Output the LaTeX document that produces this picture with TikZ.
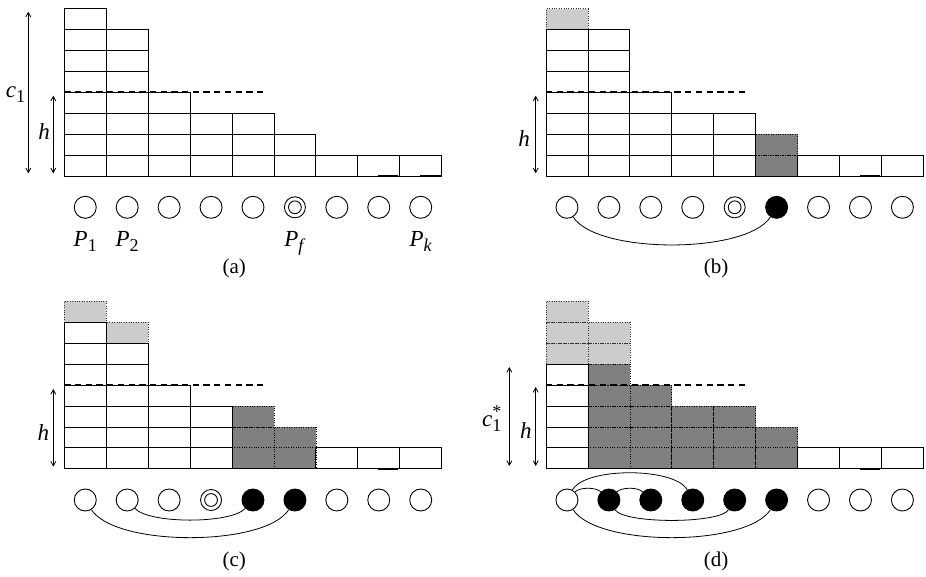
\documentclass[tikz,border=0pt]{standalone}
\usepackage{fontspec}
\setmainfont{Liberation Serif}
\usetikzlibrary{arrows.meta,calc}

% cell size of the load grids
\newcommand\cellw{41.93}
\newcommand\cellh{20.9}
% subscripts and superscripts of the labels
\newcommand\lblsub[1]{\raisebox{-0.2em}{\fontsize{18}{20}\selectfont #1}}
\newcommand\lblsup[1]{\raisebox{0.42em}{\fontsize{18}{20}\selectfont #1}}

\tikzset{
  cellline/.style={draw=black, line width=0.8pt},
  darkcell/.style={fill=black!50, draw=black, line width=0.7pt, dash pattern=on 0.8pt off 1.6pt},
  lightcell/.style={fill=black!20, draw=black!80, line width=0.7pt, dash pattern=on 0.8pt off 1.6pt},
  levelline/.style={line width=2.2pt, dash pattern=on 6.3pt off 4.4pt},
  dimarrow/.style={line width=0.8pt, {Straight Barb[length=4.5pt,width=5pt]}-{Straight Barb[length=4.5pt,width=5pt]}},
  proc/.style={circle, draw, line width=0.9pt, minimum size=22pt, inner sep=0pt, fill=white},
  busy/.style={proc, fill=black},
  home/.style={proc, minimum size=21pt, path picture={\draw[line width=0.9pt] (path picture bounding box.center) circle[radius=6.4pt];}},
  link/.style={line width=0.8pt},
  lbl/.style={font=\fontsize{23}{26}\selectfont, inner sep=0pt},
  panelcaption/.style={font=\fontsize{21}{25}\selectfont, inner sep=0pt},
}

% shaded (moved) cells: white/dark/light counts per column, bottom to top
\newcommand\shadedcells[1]{%
  \foreach \nw/\nd/\nl [count=\ci from 0] in {#1} {%
    \pgfmathtruncatemacro\dlo{\nw}%
    \pgfmathtruncatemacro\dhi{\nw+\nd-1}%
    \pgfmathtruncatemacro\llo{\nw+\nd}%
    \pgfmathtruncatemacro\lhi{\nw+\nd+\nl-1}%
    \ifnum\nd>0
      \foreach \rj in {\dlo,...,\dhi}
        {\draw[darkcell] ({\ci*\cellw},{\rj*\cellh}) rectangle ++(\cellw,\cellh);}
    \fi
    \ifnum\nl>0
      \foreach \rj in {\llo,...,\lhi}
        {\draw[lightcell] ({\ci*\cellw},{\rj*\cellh}) rectangle ++(\cellw,\cellh);}
    \fi
  }%
}
% plain cells with solid borders
\newcommand\plaincells[1]{%
  \foreach \nw/\nd/\nl [count=\ci from 0] in {#1} {%
    \pgfmathtruncatemacro\whi{\nw-1}%
    \ifnum\nw>0
      \foreach \rj in {0,...,\whi}
        {\draw[cellline] ({\ci*\cellw},{\rj*\cellh}) rectangle ++(\cellw,\cellh);}
    \fi
  }%
  \draw[cellline] (0,0) -- (9*\cellw,0);
}
% row of processors: 0 open, 1 busy, 2 home
\newcommand\proclist[2]{%
  \foreach \t [count=\pi] in {#2} {%
    \ifcase\t
      \node[proc] (#1\pi) at ({(\pi-0.5)*\cellw},-31.3) {};
    \or
      \node[busy] (#1\pi) at ({(\pi-0.5)*\cellw},-31.3) {};
    \or
      \node[home] (#1\pi) at ({(\pi-0.5)*\cellw},-31.3) {};
    \fi
  }%
}

\begin{document}
\begin{tikzpicture}[x=1pt,y=1pt]
\useasboundingbox (0,0) rectangle (926,576);

% ---------------- (a)
\begin{scope}[shift={(64.3,400)}]
  \plaincells{8/0/0,7/0/0,4/0/0,3/0/0,3/0/0,2/0/0,1/0/0,1/0/0,1/0/0}
  \draw[line width=1.8pt] (313.7,0) -- (333.7,0);
  \draw[line width=1.8pt] (355.7,0) -- (377.4,0);
  \draw[levelline] (0,{4*\cellh}) -- (202.4,{4*\cellh});
  \draw[dimarrow] (-36,2.7) -- (-36,164.3);
  \draw[dimarrow] (-11,2.7) -- (-11,80.3);
  \node[lbl,anchor=base] (ac) at (-48.8,78) {\textit{c}\lblsub{1}};
  \node[lbl,anchor=base] (ah) at (-20.3,36) {\textit{h}};
  \proclist{a}{0,0,0,0,0,2,0,0,0}
  \node[lbl,anchor=base] (ap1) at ({0.5*\cellw},-70.7) {\textit{P}\lblsub{1}};
  \node[lbl,anchor=base] (ap2) at ({1.5*\cellw},-70.7) {\textit{P}\lblsub{2}};
  \node[lbl,anchor=base] (apf) at ({5.5*\cellw},-70.7) {\textit{P}\lblsub{\textit{f}}};
  \node[lbl,anchor=base] (apk) at ({8.5*\cellw},-70.7) {\textit{P}\lblsub{\textit{k}}};
  \node[panelcaption] (acap) at (170,-92.5) {(a)};
\end{scope}

% ---------------- (b)
\begin{scope}[shift={(546,400)}]
  \shadedcells{7/0/1,7/0/0,4/0/0,3/0/0,3/0/0,0/2/0,1/0/0,1/0/0,1/0/0}
  \plaincells{7/0/1,7/0/0,4/0/0,3/0/0,3/0/0,0/2/0,1/0/0,1/0/0,1/0/0}
  \draw[line width=1.8pt] (314,0) -- (334,0);
  \draw[levelline] (0,{4*\cellh}) -- (202.4,{4*\cellh});
  \draw[dimarrow] (-10.3,2.7) -- (-10.3,80.3);
  \node[lbl,anchor=base] (bh) at (-22,29.3) {\textit{h}};
  \proclist{b}{0,0,0,0,2,1,0,0,0}
  \draw[link] (b1) .. controls ($(b1)+(30,-47)$) and ($(b6)+(-30,-47)$) .. (b6);
  \node[panelcaption] (bcap) at (170,-92.5) {(b)};
\end{scope}

% ---------------- (c)
\begin{scope}[shift={(64.3,107.3)}]
  \shadedcells{7/0/1,6/0/1,4/0/0,3/0/0,0/3/0,0/2/0,1/0/0,1/0/0,1/0/0}
  \plaincells{7/0/1,6/0/1,4/0/0,3/0/0,0/3/0,0/2/0,1/0/0,1/0/0,1/0/0}
  \draw[line width=1.8pt] (313.7,0) -- (333.7,0);
  \draw[levelline] (0,{4*\cellh}) -- (202.4,{4*\cellh});
  \draw[dimarrow] (-11,2) -- (-11,79.7);
  \node[lbl,anchor=base] (ch) at (-21,28.7) {\textit{h}};
  \proclist{c}{0,0,0,2,1,1,0,0,0}
  \draw[link] (c1) .. controls ($(c1)+(30,-47)$) and ($(c6)+(-30,-47)$) .. (c6);
  \draw[link] (c2) .. controls ($(c2)+(22,-24)$) and ($(c5)+(-22,-24)$) .. (c5);
  \node[panelcaption] (ccap) at (170,-92.5) {(c)};
\end{scope}

% ---------------- (d)
\begin{scope}[shift={(546,107.3)}]
  \shadedcells{5/0/3,0/5/2,0/4/0,0/3/0,0/3/0,0/2/0,1/0/0,1/0/0,1/0/0}
  \plaincells{5/0/3,0/5/2,0/4/0,0/3/0,0/3/0,0/2/0,1/0/0,1/0/0,1/0/0}
  \draw[line width=1.8pt] (314,0) -- (334,0);
  \draw[levelline] (0,{4*\cellh}) -- (202.4,{4*\cellh});
  \draw[dimarrow] (-36.7,2.7) -- (-36.7,101.7);
  \draw[dimarrow] (-10.3,2.7) -- (-10.3,81.7);
  \node[lbl,anchor=base] (dc) at (-54.3,42) {\textit{c}\rlap{\lblsup{*}}\lblsub{1}};
  \node[lbl,anchor=base] (dh) at (-20.2,30.4) {\textit{h}};
  \proclist{d}{0,1,1,1,1,1,0,0,0}
  \draw[link] (d1) .. controls ($(d1)+(13,13)$) and ($(d2)+(-13,13)$) .. (d2);
  \draw[link] (d2) .. controls ($(d2)+(13,13)$) and ($(d3)+(-13,13)$) .. (d3);
  \draw[link] (d1) .. controls ($(d1)+(18,33)$) and ($(d4)+(-18,33)$) .. (d4);
  \draw[link] (d2) .. controls ($(d2)+(15,-24)$) and ($(d5)+(-15,-24)$) .. (d5);
  \draw[link] (d1) .. controls ($(d1)+(30,-47)$) and ($(d6)+(-30,-47)$) .. (d6);
  \node[panelcaption] (dcap) at (170,-92.5) {(d)};
\end{scope}
\end{tikzpicture}
\end{document}
